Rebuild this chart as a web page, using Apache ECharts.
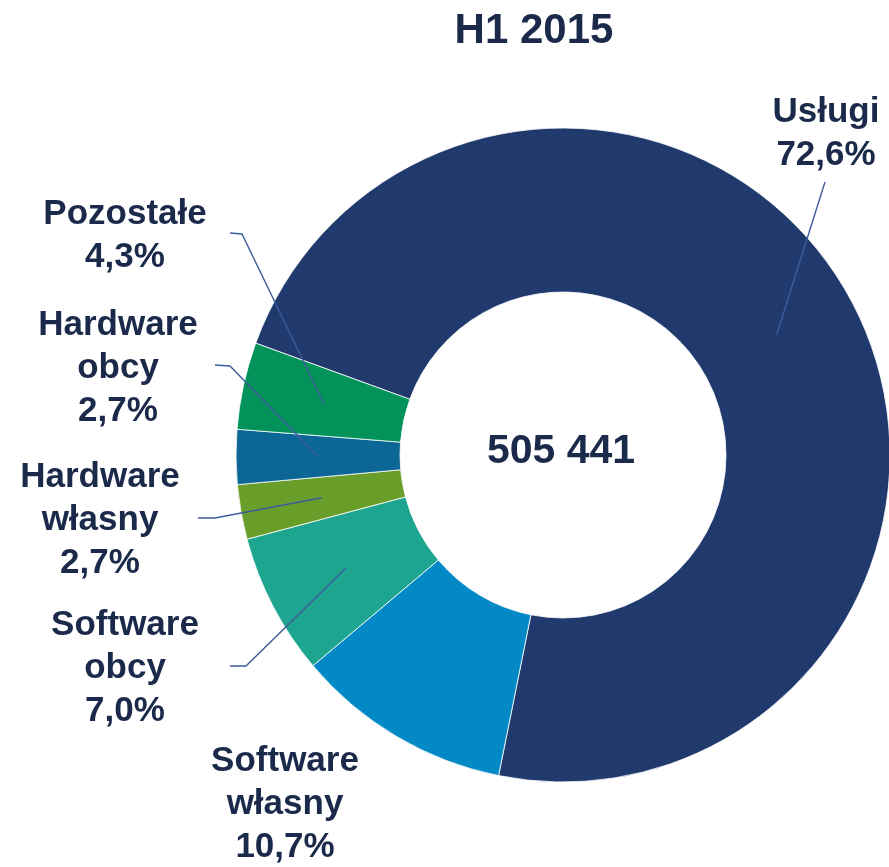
<!DOCTYPE html>
<html>
<head>
<meta charset="utf-8">
<script src="https://cdn.jsdelivr.net/npm/echarts@6/dist/echarts.min.js"></script>
<style>
    html, body { margin: 0; padding: 0; background: #fff; }
    #chart { width: 889px; height: 867px; }
</style>
</head>
<body>
<div id="chart"></div>
<script>
    var categories = ['Usługi', 'Software własny', 'Software obcy', 'Hardware własny', 'Hardware obcy', 'Pozostałe'];
    var shares = [72.6, 10.7, 7.0, 2.7, 2.7, 4.3];
    var colors = ['#213a6e', '#0389c6', '#1ea58f', '#6a9e2b', '#0c6696', '#03925a'];
    var period = 'H1 2015';
    var total = '505 441';

    // where each label sits (text centre) and where its leader line meets the text
    var labelPos = [
        {x: 826, y: 134, line: [[825, 182]]},
        {x: 285, y: 804, line: null},
        {x: 125, y: 668, line: [[246, 666], [230, 666]]},
        {x: 100, y: 520, line: [[215, 518], [198, 518]]},
        {x: 118, y: 368, line: [[230, 366], [215, 365]]},
        {x: 125, y: 236, line: [[242, 234], [230, 233]]}
    ];

    var textColor = '#1b2a4a';
    var font = 'Liberation Sans, Arial, sans-serif';

    function fmt(v) {
        return v.toFixed(1).replace('.', ',') + '%';
    }

    var ringData = categories.map(function (name, i) {
        return {name: name, value: shares[i], itemStyle: {color: colors[i]}};
    });
    var labelData = categories.map(function (name, i) {
        return {name: name, value: shares[i], labelLine: {show: labelPos[i].line != null}};
    });

    var chart = echarts.init(document.getElementById('chart'));
    chart.setOption({
        animation: false,
        graphic: [
            {
                type: 'text', x: 534, y: 31,
                style: {text: period, font: 'bold 42px ' + font, fill: textColor, align: 'center', verticalAlign: 'middle'}
            },
            {
                type: 'text', x: 561, y: 452,
                style: {text: total, font: 'bold 41px ' + font, fill: textColor, align: 'center', verticalAlign: 'middle'}
            }
        ],
        series: [
            {
                type: 'pie',
                center: [563, 455],
                radius: [163, 327],
                startAngle: 160,
                silent: true,
                label: {show: false},
                labelLine: {show: false},
                itemStyle: {borderColor: '#ffffff', borderWidth: 0.8},
                data: ringData
            },
            {
                // transparent copy, only for labels and leader lines ending inside the ring
                type: 'pie',
                z: 5,
                center: [563, 455],
                radius: [0, 245],
                startAngle: 160,
                silent: true,
                avoidLabelOverlap: false,
                itemStyle: {color: 'rgba(0,0,0,0)'},
                label: {
                    show: true,
                    position: 'outside',
                    color: textColor,
                    fontFamily: font,
                    fontWeight: 'bold',
                    fontSize: 35,
                    lineHeight: 43,
                    formatter: function (p) {
                        return p.name.replace(' ', '\n') + '\n' + fmt(p.value);
                    }
                },
                labelLine: {show: true, lineStyle: {color: '#3d5c9c', width: 1.4}},
                labelLayout: function (params) {
                    var p = labelPos[params.dataIndex];
                    var out = {x: p.x, y: p.y, align: 'center', verticalAlign: 'middle'};
                    if (p.line && params.labelLinePoints) {
                        out.labelLinePoints = [params.labelLinePoints[0]].concat(p.line);
                    }
                    return out;
                },
                data: labelData
            }
        ]
    });
</script>
</body>
</html>
